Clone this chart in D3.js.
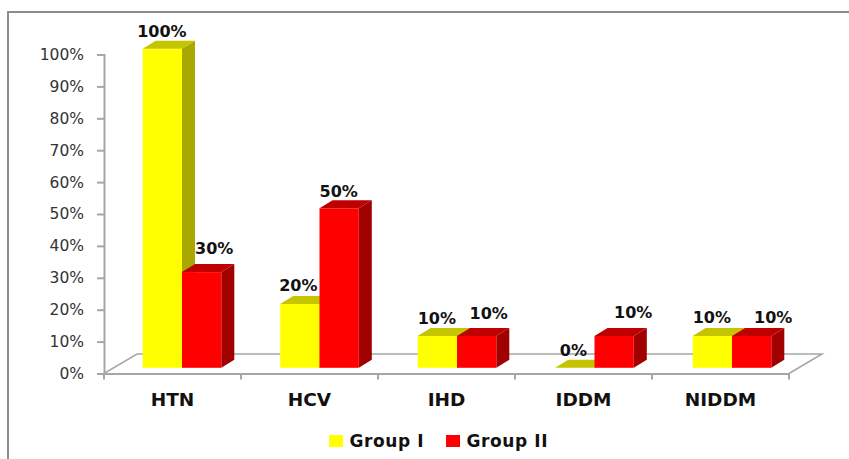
<!DOCTYPE html>
<html>
<head>
<meta charset="utf-8">
<script src="https://d3js.org/d3.v7.min.js"></script>
<style>
	html, body { margin: 0; background: #fff; }
	svg { display: block; }
	text { font-family: "DejaVu Sans", sans-serif; }
</style>
</head>
<body>
<div id="chart"></div>
<script>
	var categories = ["HTN", "HCV", "IHD", "IDDM", "NIDDM"];
	var seriesNames = ["Group I", "Group II"];
	var group1 = [100, 20, 10, 0, 10];
	var group2 = [30, 50, 10, 10, 10];
	var yTicks = [0, 10, 20, 30, 40, 50, 60, 70, 80, 90, 100];

	var width = 849, height = 459;
	var floorLeft = 104, floorRight = 789, axisBottom = 373.5, axisTop = 54.5;
	// the 3d box: how far the back of a bar sits from its front face
	var depthX = 13, depthY = 8;
	var wallX = 33, wallY = 19.5;
	var barW = 39.3;

	var colors = [
		{front: "#ffff00", top: "#c4c400", side: "#a8a800"},
		{front: "#ff0000", top: "#bf0000", side: "#a00000"}
	];
	var axisGrey = "#a6a6a6";

	var svg = d3.select("#chart").append("svg")
		.attr("width", width)
		.attr("height", height);

	// outer frame, only top and left are drawn
	svg.append("path")
		.attr("d", "M8," + height + "V12H" + width)
		.attr("fill", "none")
		.attr("stroke", "#8c8c8c")
		.attr("stroke-width", 2);

	var x = d3.scaleBand().domain(categories).range([floorLeft, floorRight]);
	// bars drift a little to the right of the axis bands
	var xBar = d3.scaleBand().domain(categories).range([floorLeft, floorRight + 2.5]);
	var y = d3.scaleLinear().domain([0, 100]).range([axisBottom, axisTop]);

	// floor
	svg.append("path")
		.attr("d", "M" + floorLeft + "," + axisBottom +
			"L" + (floorLeft + wallX) + "," + (axisBottom - wallY) +
			"H" + (floorRight + wallX) +
			"L" + floorRight + "," + axisBottom)
		.attr("fill", "none")
		.attr("stroke", axisGrey)
		.attr("stroke-width", 1.5);

	var yAxis = d3.axisLeft(y)
		.tickValues(yTicks)
		.tickSize(7)
		.tickPadding(13)
		.tickFormat(function(d){ return d + "%"; });

	var xAxis = d3.axisBottom(x)
		.tickSize(0)
		.tickPadding(19);

	var gy = svg.append("g")
		.attr("transform", "translate(" + floorLeft + ",0)")
		.call(yAxis);
	gy.selectAll("path,line").attr("stroke", axisGrey).attr("stroke-width", 2);
	gy.selectAll("text")
		.attr("fill", "#333")
		.attr("font-size", 15.5);

	var gx = svg.append("g")
		.attr("transform", "translate(0," + axisBottom + ")")
		.call(xAxis);
	gx.select("path").attr("stroke", axisGrey).attr("stroke-width", 2);
	gx.selectAll("text")
		.attr("fill", "#111")
		.attr("font-size", 18.5)
		.attr("font-weight", "bold");

	// tick marks sit between the categories
	gx.selectAll(".sep")
		.data(d3.range(categories.length + 1))
		.enter()
		.append("line")
		.attr("x1", function(i){ return floorLeft + i * x.step(); })
		.attr("x2", function(i){ return floorLeft + i * x.step(); })
		.attr("y1", 0)
		.attr("y2", 6)
		.attr("stroke", axisGrey)
		.attr("stroke-width", 2);

	var base = axisBottom - 5.7;
	var shift = x.step() / 2 + 9.5 - barW;

	function drawBar(cat, s, value){
		var x0 = xBar(cat) + shift + s * barW;
		var h = y(0) - y(value);
		var top = base - h;
		var c = colors[s];
		var g = svg.append("g");
		if(value > 0){
			g.append("path")
				.attr("d", "M" + (x0 + barW) + "," + top +
					"l" + depthX + "," + (-depthY) +
					"v" + h +
					"l" + (-depthX) + "," + depthY + "z")
				.attr("fill", c.side);
			g.append("rect")
				.attr("x", x0)
				.attr("y", top)
				.attr("width", barW)
				.attr("height", h)
				.attr("fill", c.front);
		}
		g.append("path")
			.attr("d", "M" + x0 + "," + top +
				"l" + depthX + "," + (-depthY) +
				"h" + barW +
				"l" + (-depthX) + "," + depthY + "z")
			.attr("fill", c.top);
	}

	categories.forEach(function(cat, i){
		drawBar(cat, 0, group1[i]);
		drawBar(cat, 1, group2[i]);
	});

	// data labels were placed by hand around the bars, so each has its own nudge
	var nudge1 = [[-7, -4], [-7.5, -5], [-6, -4], [-6.5, -4], [-5, -5]];
	var nudge2 = [[6, -10], [-6.5, -3.5], [6.5, -9], [14, -10], [17, -5]];

	function drawLabels(values, s, nudge){
		svg.selectAll(".lab" + s)
			.data(values)
			.enter()
			.append("text")
			.attr("class", "lab" + s)
			.attr("x", function(d, i){
				return x(categories[i]) + shift + s * barW + barW / 2 + depthX / 2 + nudge[i][0];
			})
			.attr("y", function(d, i){
				return base - (y(0) - y(d)) - depthY + nudge[i][1];
			})
			.attr("text-anchor", "middle")
			.attr("font-size", 16)
			.attr("font-weight", "bold")
			.attr("fill", "#111")
			.text(function(d){ return d + "%"; });
	}
	drawLabels(group1, 0, nudge1);
	drawLabels(group2, 1, nudge2);

	// legend
	var legendX = [329, 446];
	var legend = svg.selectAll(".legend")
		.data(seriesNames)
		.enter()
		.append("g")
		.attr("class", "legend")
		.attr("transform", function(d, i){ return "translate(" + legendX[i] + ",434)"; });
	legend.append("rect")
		.attr("y", 1)
		.attr("width", 14)
		.attr("height", 12)
		.attr("fill", function(d, i){ return colors[i].front; });
	legend.append("text")
		.attr("x", 20.5)
		.attr("y", 12.5)
		.attr("font-size", 17)
		.attr("letter-spacing", 0.6)
		.attr("font-weight", "bold")
		.attr("fill", "#111")
		.text(function(d){ return d; });
</script>
</body>
</html>
